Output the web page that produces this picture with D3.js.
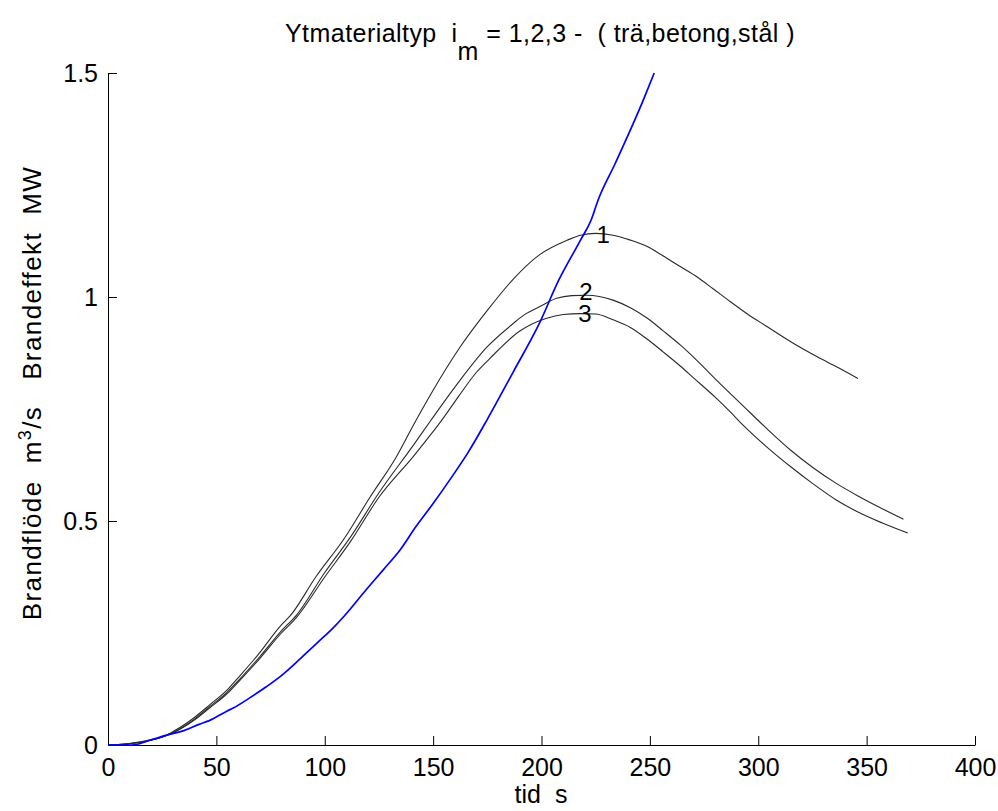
<!DOCTYPE html>
<html><head><meta charset="utf-8">
<script src="https://cdn.jsdelivr.net/npm/d3@7"></script>
<style>
body{margin:0;background:#fff;}
text{font-family:"Liberation Sans",Arial,sans-serif;fill:#000;white-space:pre;}
</style></head>
<body><svg id="c" width="998" height="811"></svg>
<script>
// Series: curve 1 (trä)
const t1 = [0,8,15,20,25,30,36,40,47,55,60,69,80,84,96,109,121,133,141,150,162,175,187,199,212,218,225,233,241,249,256,264,272,279,287,295,304,315,327,337,346];
const v1 = [0,0.002,0.007,0.012,0.018,0.03,0.048,0.062,0.09,0.123,0.15,0.2,0.268,0.288,0.376,0.461,0.554,0.643,0.715,0.792,0.885,0.97,1.04,1.094,1.127,1.138,1.142,1.138,1.127,1.112,1.092,1.068,1.044,1.019,0.99,0.962,0.934,0.9,0.867,0.842,0.818];
// curve 2 (betong)
const t2 = [0,8,20,30,40,47,55,60,70,80,87,100,112,125,141,149,161,175,187,192,199,207,214,221,233,241,249,256,264,272,280,287,293,304,315,325,336,346,357,367];
const v2 = [0,0.002,0.011,0.028,0.058,0.086,0.118,0.143,0.197,0.255,0.29,0.385,0.465,0.563,0.67,0.725,0.805,0.889,0.941,0.96,0.978,0.997,1.003,1.004,0.993,0.976,0.952,0.925,0.893,0.857,0.818,0.785,0.757,0.706,0.658,0.62,0.584,0.556,0.528,0.504];
// curve 3 (stål)
const t3 = [0,8,20,30,40,47,55,60,70,80,87,100,112,125,141,154,162,170,176,190,202,210,218,225,233,241,249,256,264,270,280,287,293,304,315,325,336,346,357,369];
const v3 = [0,0.002,0.011,0.027,0.056,0.083,0.115,0.14,0.193,0.25,0.285,0.375,0.455,0.553,0.645,0.725,0.78,0.832,0.862,0.924,0.952,0.961,0.963,0.962,0.949,0.932,0.905,0.878,0.846,0.82,0.777,0.744,0.714,0.665,0.621,0.584,0.547,0.52,0.496,0.473];
// blue curve (brandflöde)
const tB = [0,11,19,27,35,42,47,55,58,65,73,80,89,97,104,109,119,127,135,142,150,158,166,175,187,199,208,218,223,226,234,247,252];
const vB = [0,0,0.01,0.022,0.032,0.046,0.055,0.076,0.083,0.104,0.13,0.155,0.194,0.23,0.262,0.288,0.346,0.391,0.437,0.487,0.539,0.594,0.652,0.727,0.833,0.941,1.038,1.127,1.173,1.215,1.298,1.44,1.5];

const xTicks = [0,50,100,150,200,250,300,350,400];
const yTicks = [0,0.5,1,1.5];
const curveLabels = ["1","2","3"];
const labelT = [228.4,220.5,220];
const labelV = [1.14,1.012,0.964];

const FS = 25;
const svg = d3.select("#c");
const L=108, R=975, T=73, B=745;
const x = d3.scaleLinear().domain([0,400]).range([L,R]);
const y = d3.scaleLinear().domain([0,1.5]).range([B,T]);

// axes
const xAxis = d3.axisBottom(x).tickValues(xTicks).tickSizeInner(-9).tickSizeOuter(0).tickPadding(13)
  .tickFormat(d=>d3.format("d")(d));
const yAxis = d3.axisLeft(y).tickValues(yTicks).tickSizeInner(-9).tickSizeOuter(0).tickPadding(10)
  .tickFormat(d=>d===0?"0":(d===1?"1":d3.format(".1f")(d)));
const gx = svg.append("g").attr("transform",`translate(0,${B})`).call(xAxis);
const gy = svg.append("g").attr("transform",`translate(${L},0)`).call(yAxis);
[gx,gy].forEach(g=>{
  g.selectAll("path,line").attr("stroke","#000").attr("stroke-width",1);
  g.selectAll("text").attr("font-size",FS).attr("font-family","Liberation Sans, Arial, sans-serif");
});
gx.selectAll("text").attr("dy","0.71em");

const line = d3.line().x(d=>x(d[0])).y(d=>y(d[1])).curve(d3.curveMonotoneX);
const mk = (ts,vs)=>ts.map((t,i)=>[t,vs[i]]);
[[t1,v1],[t2,v2],[t3,v3]].forEach(([ts,vs])=>{
  svg.append("path").datum(mk(ts,vs)).attr("d",line)
    .attr("fill","none").attr("stroke","#2a2a2a").attr("stroke-width",1.1);
});
svg.append("path").datum(mk(tB,vB)).attr("d",line)
  .attr("fill","none").attr("stroke","#0000ff").attr("stroke-width",1.7);

curveLabels.forEach((s,i)=>{
  svg.append("text").attr("x",x(labelT[i])).attr("y",y(labelV[i]))
    .attr("text-anchor","middle").attr("dominant-baseline","central")
    .attr("font-size",24).text(s);
});

// title
const title = svg.append("text").attr("x",540).attr("y",42).attr("text-anchor","middle")
  .attr("font-size",FS).attr("letter-spacing",0.45);
title.append("tspan").text("Ytmaterialtyp  i");
title.append("tspan").attr("dy",18).text("m");
title.append("tspan").attr("dy",-18).text(" = 1,2,3 -  ( trä,betong,stål )");

// x label
svg.append("text").attr("x",541).attr("y",803).attr("text-anchor","middle").attr("font-size",FS).text("tid  s");

// y label
const yl = svg.append("text").attr("transform",`translate(41,${(T+B)/2 - 16}) rotate(-90)`)
  .attr("text-anchor","middle").attr("font-size",26).attr("letter-spacing",1.4);
yl.append("tspan").text("Brandflöde  m");
yl.append("tspan").attr("font-size",18).attr("dy",-10).text("3");
yl.append("tspan").attr("dy",10).text("/s   Brandeffekt  MW");
</script>
</body></html>
